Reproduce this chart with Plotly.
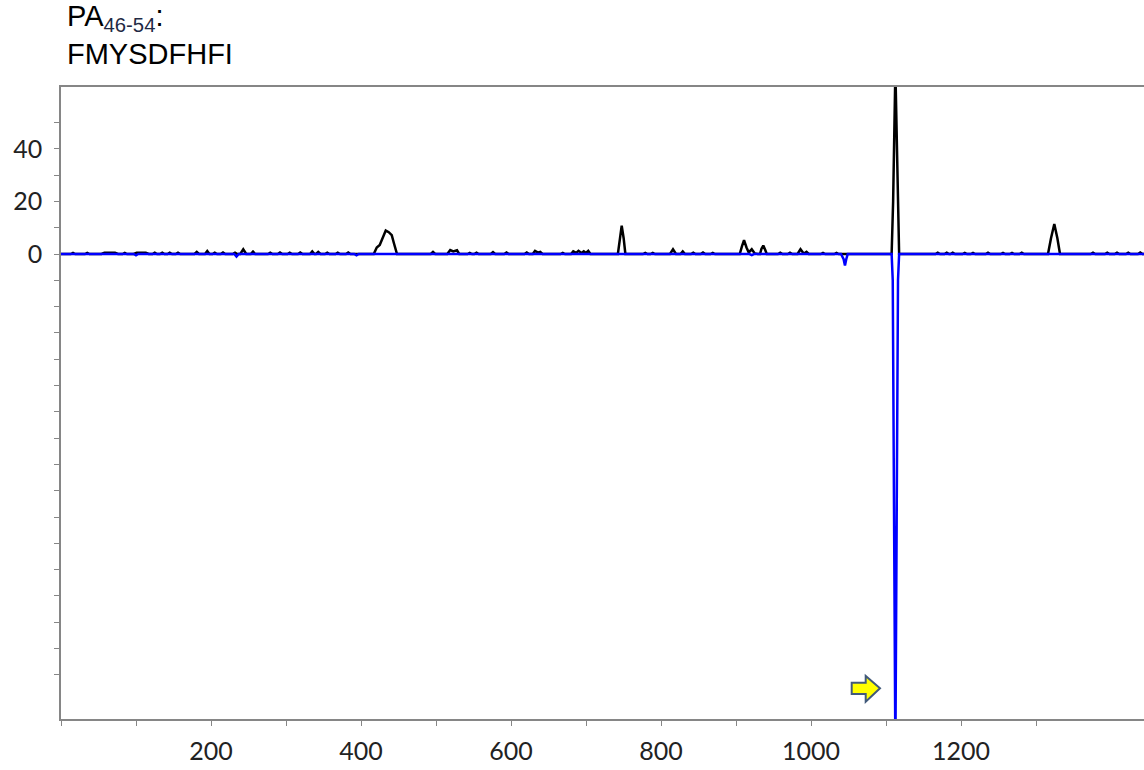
import plotly.graph_objects as go

# ---------------- data ----------------
black_x = [0,
           13, 16, 19, 32, 35, 38, 54, 58, 72, 76, 82, 85, 88, 97, 101, 113, 117,
           122, 125, 128, 132, 135, 138, 142, 145, 148, 153, 156, 159,
           178, 181, 184, 192, 195, 198, 202, 205, 208, 213, 216, 219,
           229, 232, 235, 239, 243, 247, 253, 256, 259,
           276, 279, 282, 289, 292, 295, 302, 305, 308, 316, 319, 322,
           332, 335, 338, 340, 343, 346, 352, 355, 358, 366, 369, 372, 380, 383, 386,
           417, 421, 425, 429, 433, 437, 441, 444, 448,
           493, 496, 499, 515, 519, 523, 528, 531,
           542, 545, 548, 551, 554, 557, 573, 576, 579, 591, 594, 597,
           618, 621, 624, 629, 632, 636, 639, 642, 666, 669, 672,
           680, 683, 687, 690, 694, 697, 700, 703, 706,
           742.5, 745, 747.6, 750.2, 752.5,
           776, 779, 782, 786, 789, 792, 812, 816, 820, 826, 829, 832,
           840, 843, 846, 853, 856, 859, 866, 869, 872,
           905, 908, 910.7, 914, 917, 921, 925, 929, 932, 934, 936.4, 939, 941,
           956, 959, 962, 969, 972, 975, 982, 986, 990, 991, 994, 997,
           1013, 1016, 1019, 1031, 1034, 1037,
           1107.5, 1109.5, 1112.5, 1115.5, 1117.5,
           1166, 1169, 1172, 1178, 1181, 1184, 1186, 1189, 1192,
           1202, 1205, 1208, 1213, 1216, 1219, 1233, 1236, 1239,
           1253, 1256, 1259, 1265, 1268, 1271, 1278, 1281, 1284,
           1316, 1320, 1324.4, 1328.5, 1332,
           1373, 1376, 1379, 1392, 1395, 1398, 1405, 1408, 1411,
           1420, 1423, 1426, 1436, 1439, 1442, 1444]
black_y = [0,
           0, 0.4, 0, 0, 0.4, 0, 0, 0.5, 0.5, 0, 0, 0.4, 0, 0, 0.5, 0.5, 0,
           0, 0.5, 0, 0, 0.5, 0, 0, 0.5, 0, 0, 0.5, 0,
           0, 0.8, 0, 0, 1.1, 0, 0, 0.5, 0, 0, 0.6, 0,
           0, 0.5, 0, 0, 1.8, 0, 0, 0.9, 0,
           0, 0.5, 0, 0, 0.6, 0, 0, 0.5, 0, 0, 0.6, 0,
           0, 1.0, 0, 0, 0.8, 0, 0, 0.5, 0, 0, 0.5, 0, 0, 0.6, 0,
           0, 2.5, 3.4, 6.5, 8.9, 8.3, 7.2, 4.0, 0,
           0, 0.8, 0, 0, 1.5, 1.0, 1.4, 0,
           0, 0.4, 0, 0, 0.5, 0, 0, 0.7, 0, 0, 0.6, 0,
           0, 0.6, 0, 0, 1.2, 0.5, 0.8, 0, 0, 0.4, 0,
           0, 1.0, 0.4, 1.2, 0.4, 1.0, 0.4, 1.2, 0,
           0, 6.0, 10.8, 6.0, 0,
           0, 0.4, 0, 0, 0.4, 0, 0, 1.8, 0, 0, 1.0, 0,
           0, 0.5, 0, 0, 0.6, 0, 0, 0.4, 0,
           0, 3.0, 5.3, 2.5, 0.6, 1.8, 0.2, 0, 0, 2.0, 3.2, 1.5, 0,
           0, 0.5, 0, 0, 0.5, 0, 0, 1.8, 0.3, 0.3, 0.8, 0,
           0, 0.4, 0, 0, 0.4, 0,
           0, 20, 70, 20, 0,
           0, 0.5, 0, 0, 0.5, 0, 0, 0.5, 0,
           0, 0.4, 0, 0, 0.4, 0, 0, 0.5, 0,
           0, 0.4, 0, 0, 0.4, 0, 0, 0.5, 0,
           0, 6.0, 11.4, 6.0, 0,
           0, 0.5, 0, 0, 0.5, 0, 0, 0.5, 0,
           0, 0.5, 0, 0, 0.6, 0, 0]

blue_x = [0, 97, 100, 103, 231, 234, 237, 391, 394, 397, 918, 921, 924,
          1040, 1043.5, 1045.3, 1047, 1049,
          1107.5, 1109, 1112.5, 1116, 1117.5, 1444]
blue_y = [0, 0, -0.5, 0, 0, -1.0, 0, 0, -0.5, 0, 0, -0.4, 0,
          0, -2.0, -4.4, -2.0, 0,
          0, -10, -190, -10, 0, 0]

x_label_vals = [200, 400, 600, 800, 1000, 1200]
x_label_text = ["200", "400", "600", "800", "1000", "1200"]
x_minor_vals = [0, 100, 300, 500, 700, 900, 1100, 1300]
y_label_vals = [0, 20, 40]
y_label_text = ["0", "20", "40"]
y_minor_vals = [-160, -150, -140, -130, -120, -110, -100, -90, -80, -70, -60, -50,
                -40, -30, -20, -10, 10, 30, 50]

title_text = 'PA<sub><span style="color:#1f2a44">46-54</span></sub>:<br>FMYSDFHFI'

# ---------------- figure ----------------
L, R, T, B = 61, 0, 87, 51
W, H = 1144, 770
PW, PH = W - L - R, H - T - B

fig = go.Figure()
fig.add_trace(go.Scatter(x=black_x, y=black_y, mode="lines",
                         line=dict(color="#000000", width=2.5)))
fig.add_trace(go.Scatter(x=blue_x, y=blue_y, mode="lines",
                         line=dict(color="#0000ff", width=2.5)))

axis_col = "#868686"
tick_font = dict(family="Lato", size=25, color="#222222")
minor_x = dict(tickvals=x_minor_vals, ticks="outside", ticklen=5, tickwidth=1,
               tickcolor=axis_col, showgrid=False)
minor_y = dict(tickvals=y_minor_vals, ticks="outside", ticklen=5, tickwidth=1,
               tickcolor=axis_col, showgrid=False)

fig.update_xaxes(range=[0, 1444], showgrid=False, zeroline=False,
                 showline=True, linecolor=axis_col, linewidth=1.5, mirror=True,
                 ticks="outside", ticklen=5, tickwidth=1, tickcolor=axis_col,
                 tickvals=x_label_vals, ticktext=x_label_text, minor=minor_x,
                 tickfont=tick_font, ticklabelstandoff=4)
fig.update_yaxes(range=[-176.8, 63.5], showgrid=False, zeroline=False,
                 showline=True, linecolor=axis_col, linewidth=1.5,
                 ticks="outside", ticklen=5, tickwidth=1, tickcolor=axis_col,
                 tickvals=y_label_vals, ticktext=y_label_text, minor=minor_y,
                 tickfont=tick_font, ticklabelstandoff=7)


def to_paper(xp, yp):
    return (xp - L) / PW, (H - B - yp) / PH


# two-line title
tx, ty = to_paper(65, 35)
fig.add_annotation(text=title_text, xref="paper", yref="paper", x=tx, y=ty,
                   xanchor="left", yanchor="middle", align="left", showarrow=False,
                   font=dict(family="Liberation Sans", size=29, color="#000000"))

# yellow arrow pointer
arrow_px = [(851.7, 682.7), (865.7, 682.7), (865.7, 676), (880, 688.3),
            (865.7, 701.7), (865.7, 694), (851.7, 694)]
pts = [to_paper(a, b) for a, b in arrow_px]
path = "M " + " L ".join(f"{a:.5f},{b:.5f}" for a, b in pts) + " Z"
fig.add_shape(type="path", path=path, xref="paper", yref="paper",
              fillcolor="#ffff00", line=dict(color="#41597a", width=2))

fig.update_layout(width=W, height=H, margin=dict(l=L, r=R, t=T, b=B),
                  plot_bgcolor="white", paper_bgcolor="white", showlegend=False)

fig.write_html("out.html")
